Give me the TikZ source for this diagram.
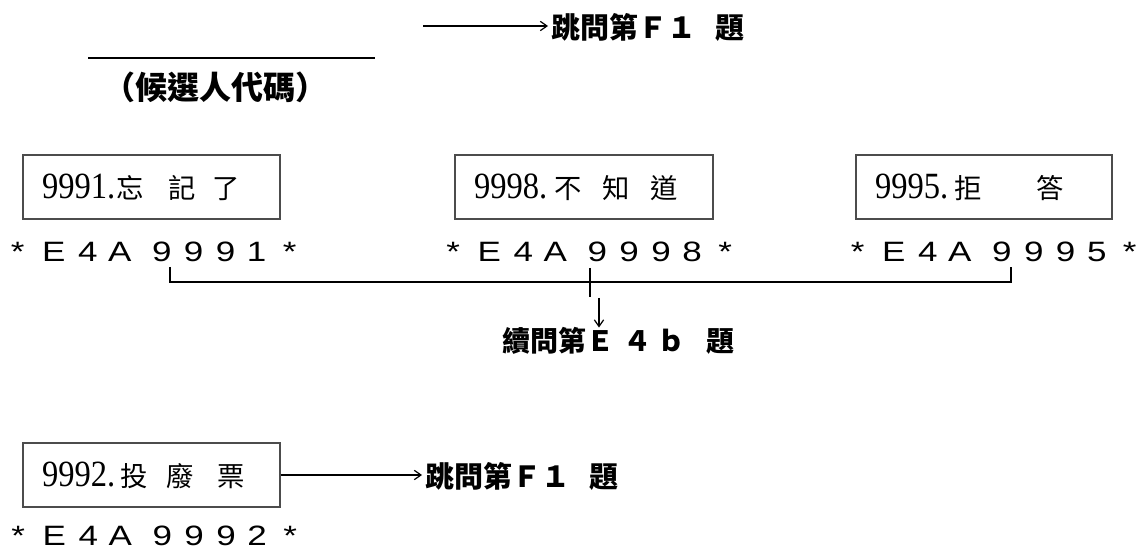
\documentclass[tikz,border=0pt]{standalone}
\usepackage{fontspec}
\usetikzlibrary{arrows.meta}
\newfontfamily\cjk{Noto Sans CJK TC}
\newfontfamily\numf[FakeStretch=0.88]{Liberation Serif}
\newfontfamily\codef[FakeStretch=1.25]{Liberation Sans}
\newcommand\gl[1]{\makebox[0pt][c]{#1}}
\newcommand\codestr[9]{\gl{#1}\hspace{27pt}\gl{#2}\hspace{25.5pt}\gl{#3}\hspace{24pt}\gl{#4}\hspace{31.5pt}\gl{#5}\hspace{24pt}\gl{#6}\hspace{24pt}\gl{#7}\hspace{23.25pt}\gl{#8}\hspace{24.75pt}\gl{#9}}
\newcommand\num[1]{{\numf\fontsize{27.75pt}{30pt}\selectfont #1}}
\newcommand\gp[1]{\hspace{#1pt}}
\tikzset{
  optbox/.style={draw=black!70, line width=0.8pt, minimum height=48pt,
    inner xsep=14.25pt, align=left, text height=21pt, text depth=3.75pt,
    font=\cjk\fontsize{20.5pt}{24pt}\selectfont},
  codetxt/.style={anchor=base west, inner sep=0pt, font=\codef\fontsize{21pt}{24pt}\selectfont},
  jumptxt/.style={anchor=base west, inner ysep=0pt, inner xsep=2.25pt,
    font=\cjk\bfseries\fontsize{21.75pt}{26pt}\selectfont},
  arr/.style={line width=0.9pt, -{Straight Barb[length=5pt,width=7pt]}},
  brk/.style={line width=1.2pt}
}
\begin{document}
\begin{tikzpicture}[x=0.75pt,y=-0.75pt]
\useasboundingbox (0,0) rectangle (1140,549);
% top jump
\node[jumptxt] (t1) at (548,39) {跳問第Ｆ１\hspace{14.25pt}題};
\coordinate (a0) at (423,26);
\draw[arr] (a0) -- (a0 -| t1.west);
% candidate code blank
\draw[line width=0.8pt] (88,58) -- (375,58);
\node[anchor=base west, inner sep=0pt, font=\cjk\bfseries\fontsize{24pt}{28pt}\selectfont] (cand) at (103,100) {（候選人代碼）};
% option boxes
\node[optbox, minimum width=192.75pt, text width=164.25pt] (b1) at (151.5,187)
  {\num{9991.}\gp{0.6}忘\gp{19}記\gp{12.25}了};
\node[optbox, minimum width=193.5pt, text width=165pt] (b2) at (584,187)
  {\num{9998.}\gp{5.5}不\gp{15.6}知\gp{15.25}道};
\node[optbox, minimum width=192pt, text width=163.5pt] (b3) at (984,187)
  {\num{9995.}\gp{4.7}拒\gp{41.1}答};
\node[optbox, minimum width=192.75pt, text width=164.25pt] (b4) at (151.5,475)
  {\num{9992.}\gp{4}投\gp{13.75}廢\gp{18.25}票};
% codes
\node[codetxt] (c1) at (17.5,262) {\codestr{*}{E}{4}{A}{9}{9}{9}{1}{*}};
\node[codetxt] (c2) at (453,262) {\codestr{*}{E}{4}{A}{9}{9}{9}{8}{*}};
\node[codetxt] (c3) at (857.5,262) {\codestr{*}{E}{4}{A}{9}{9}{9}{5}{*}};
\node[codetxt] (c4) at (18,545) {\codestr{*}{E}{4}{A}{9}{9}{9}{2}{*}};
% bracket
\coordinate (bl) at (170,267);
\coordinate (blc) at (170,282);
\coordinate (br) at (1011,267);
\coordinate (brc) at (1011,282);
\draw[brk] (bl) -- (blc) -- (brc) -- (br);
\coordinate (st) at (590,268);
\coordinate (sb) at (590,297);
\draw[brk] (st) -- (sb);
\node[jumptxt, inner xsep=0pt, font=\cjk\bfseries\fontsize{21pt}{25pt}\selectfont] (t3) at (502,352)
  {續問第Ｅ\hspace{6.75pt}４\hspace{4.5pt}ｂ\hspace{15.75pt}題};
\coordinate (at) at (599,298);
\draw[arr] (at) -- (at |- t3.north);
% bottom jump
\node[jumptxt] (t2) at (422,487) {跳問第Ｆ１\hspace{14.25pt}題};
\draw[arr] (b4.east) -- (b4.east -| t2.west);
\end{tikzpicture}
\end{document}
